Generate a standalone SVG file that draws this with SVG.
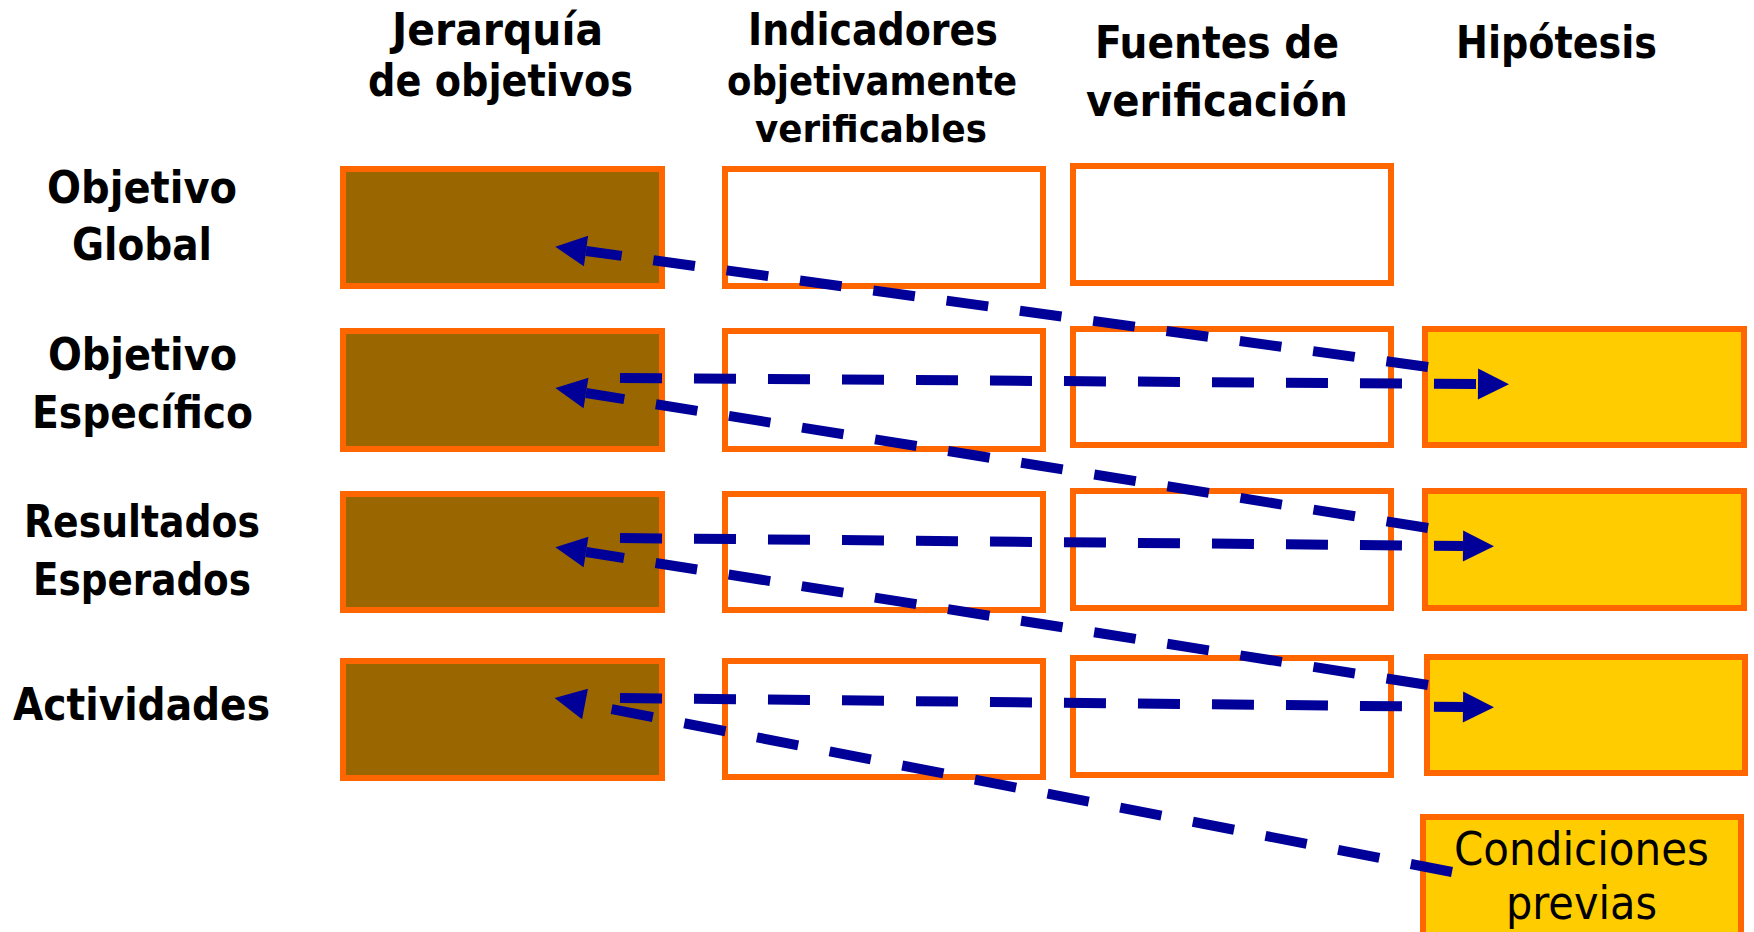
<svg xmlns="http://www.w3.org/2000/svg" width="1754" height="932" viewBox="0 0 1754 932">
<style>
.b{stroke:#FF6600;stroke-width:6}
.h{fill:#996600}
.w{fill:#FFFFFF}
.y{fill:#FFCC00}
.t{font-family:"DejaVu Sans Condensed","DejaVu Sans",sans-serif;font-weight:bold;fill:#000;text-anchor:start}
.c{font-family:"DejaVu Sans Condensed","DejaVu Sans",sans-serif;fill:#000;text-anchor:start}
.a{fill:none;stroke:#000099;stroke-width:10;stroke-dasharray:42 32}
</style>
<defs>
<marker id="ar" markerUnits="userSpaceOnUse" markerWidth="32" markerHeight="32" refX="0" refY="15.5" orient="auto" viewBox="0 0 32 31" overflow="visible">
<path d="M0,0 L31,15.5 L0,31 z" fill="#000099"/>
</marker>
</defs>
<rect width="1754" height="932" fill="#FFFFFF"/>
<g id="headers">
<text class="t" font-size="44" x="392" y="45" textLength="211" lengthAdjust="spacingAndGlyphs">Jerarquía</text>
<text class="t" font-size="44" x="368" y="96" textLength="265" lengthAdjust="spacingAndGlyphs">de objetivos</text>
<text class="t" font-size="44" x="748" y="45" textLength="250" lengthAdjust="spacingAndGlyphs">Indicadores</text>
<text class="t" font-size="40" x="727" y="95" textLength="290" lengthAdjust="spacingAndGlyphs">objetivamente</text>
<text class="t" font-size="38" x="755" y="142" textLength="232" lengthAdjust="spacingAndGlyphs">verificables</text>
<text class="t" font-size="44" x="1095" y="58" textLength="244" lengthAdjust="spacingAndGlyphs">Fuentes de</text>
<text class="t" font-size="44" x="1086" y="116" textLength="262" lengthAdjust="spacingAndGlyphs">verificación</text>
<text class="t" font-size="44" x="1456" y="58" textLength="201" lengthAdjust="spacingAndGlyphs">Hipótesis</text>
</g>
<g id="row-labels">
<text class="t" font-size="44" x="47" y="203" textLength="190" lengthAdjust="spacingAndGlyphs">Objetivo</text>
<text class="t" font-size="44" x="72" y="260" textLength="140" lengthAdjust="spacingAndGlyphs">Global</text>
<text class="t" font-size="44" x="48" y="370" textLength="189" lengthAdjust="spacingAndGlyphs">Objetivo</text>
<text class="t" font-size="44" x="32" y="428" textLength="221" lengthAdjust="spacingAndGlyphs">Específico</text>
<text class="t" font-size="44" x="24" y="537" textLength="236" lengthAdjust="spacingAndGlyphs">Resultados</text>
<text class="t" font-size="44" x="33" y="595" textLength="218" lengthAdjust="spacingAndGlyphs">Esperados</text>
<text class="t" font-size="44" x="13" y="720" textLength="257" lengthAdjust="spacingAndGlyphs">Actividades</text>
</g>
<g id="col1">
<rect id="j1" class="b h" x="343" y="169" width="319" height="117"/>
<rect id="j2" class="b h" x="343" y="331" width="319" height="118"/>
<rect id="j3" class="b h" x="343" y="494" width="319" height="116"/>
<rect id="j4" class="b h" x="343" y="661" width="319" height="117"/>
</g>
<g id="col2">
<rect id="i1" class="b w" x="725" y="169" width="318" height="117"/>
<rect id="i2" class="b w" x="725" y="331" width="318" height="118"/>
<rect id="i3" class="b w" x="725" y="494" width="318" height="116"/>
<rect id="i4" class="b w" x="725" y="661" width="318" height="116"/>
</g>
<g id="col3">
<rect id="f1" class="b w" x="1073" y="166" width="318" height="117"/>
<rect id="f2" class="b w" x="1073" y="329" width="318" height="116"/>
<rect id="f3" class="b w" x="1073" y="491" width="318" height="117"/>
<rect id="f4" class="b w" x="1073" y="658" width="318" height="117"/>
</g>
<g id="col4">
<rect id="h2" class="b y" x="1425" y="329" width="319" height="116"/>
<rect id="h3" class="b y" x="1425" y="491" width="319" height="117"/>
<rect id="h4" class="b y" x="1427" y="657" width="318" height="116"/>
</g>
<g id="condiciones">
<rect class="b y" x="1423" y="817" width="318" height="130"/>
</g>
<g id="connectors">
<path class="a" d="M620,378 L1478,384" marker-end="url(#ar)"/>
<path class="a" d="M620,538 L1463,546" marker-end="url(#ar)"/>
<path class="a" d="M620,698 L1463,707" marker-end="url(#ar)"/>
<path class="a" d="M1428,367 L586,251" marker-end="url(#ar)"/>
<path class="a" d="M1428,528 L586,393" marker-end="url(#ar)"/>
<path class="a" d="M1428,685 L586,552" marker-end="url(#ar)"/>
<path class="a" d="M1452,872 L585,704" marker-end="url(#ar)"/>
</g>
<g id="condiciones-text">
<text class="c" font-size="46" x="1454" y="865" textLength="255" lengthAdjust="spacingAndGlyphs">Condiciones</text>
<text class="c" font-size="46" x="1506" y="919" textLength="151" lengthAdjust="spacingAndGlyphs">previas</text>
</g>
</svg>
